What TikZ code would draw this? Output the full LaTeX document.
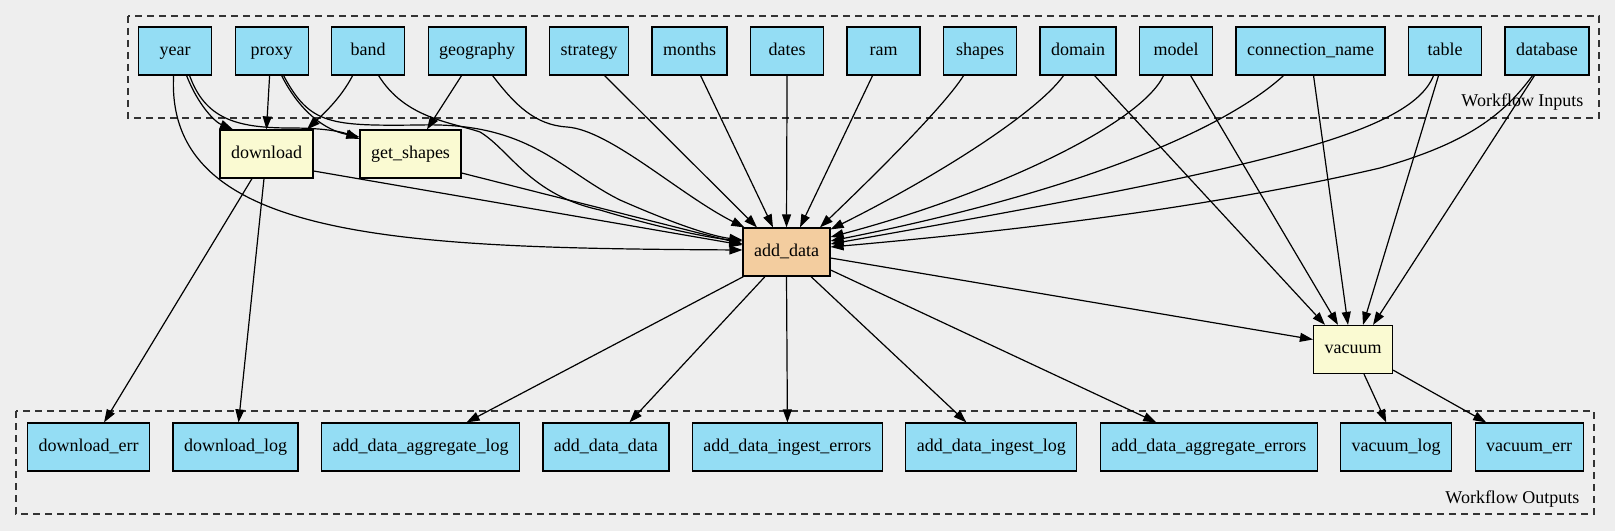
\documentclass[tikz,border=0pt]{standalone}
\usepackage{fontspec}
\setmainfont{Liberation Serif}
\usetikzlibrary{arrows.meta}

\definecolor{bgcol}{HTML}{EEEEEE}
\definecolor{iofill}{HTML}{94DDF4}
\definecolor{jobfill}{HTML}{FAFAD2}
\definecolor{mainfill}{HTML}{F3CD9F}
\newcommand\gvfont{\fontsize{18bp}{21bp}\selectfont}

\tikzset{
  io/.style={draw, fill=iofill, line width=1.2bp, minimum width=73bp,
    minimum height=48bp, inner xsep=11bp, text height=12.5bp, text depth=4bp,
    font=\gvfont},
  job/.style={io, fill=jobfill},
  mainjob/.style={io, fill=mainfill},
  edge/.style={draw, line width=1.2bp, -{Triangle[length=13bp,width=9bp]}},
  cluster/.style={draw=black!80, line width=1.2bp, dash pattern=on 7bp off 5bp},
}

\begin{document}
\begin{tikzpicture}[x=1bp, y=-1bp]
  \useasboundingbox[fill=bgcol] (0,0) rectangle (1615,531);
  \draw[cluster] (128,16) rectangle (1599,118);
  \draw[cluster] (16,411) rectangle (1594,514);
  \node[anchor=base east, font=\gvfont] (inputs) at (1587,107) {Workflow Inputs};
  \node[anchor=base east, font=\gvfont] (outputs) at (1583,503) {Workflow Outputs};

  \matrix[matrix anchor=year.west, column sep=22.3bp] at (138,51)
  {
    \node[io] (year) {year}; & \node[io] (proxy) {proxy}; & \node[io] (band) {band}; &
    \node[io] (geography) {geography}; & \node[io] (strategy) {strategy}; &
    \node[io] (months) {months}; & \node[io] (dates) {dates}; & \node[io] (ram) {ram}; &
    \node[io] (shapes) {shapes}; & \node[io] (domain) {domain}; & \node[io] (model) {model}; &
    \node[io] (connection-name) {connection\_name}; & \node[io] (table) {table}; &
    \node[io] (database) {database}; \\
  };

  \node[job] (download) at (266.5,154) {download};
  \node[job] (get-shapes) at (410.5,154) {get\_shapes};
  \node[mainjob] (add-data) at (786.5,252) {add\_data};
  \node[job] (vacuum) at (1353,349.5) {vacuum};

  \matrix[matrix anchor=download-err.west, column sep=22.3bp] at (27,447)
  {
    \node[io] (download-err) {download\_err}; & \node[io] (download-log) {download\_log}; &
    \node[io] (add-data-aggregate-log) {add\_data\_aggregate\_log}; &
    \node[io] (add-data-data) {add\_data\_data}; &
    \node[io] (add-data-ingest-errors) {add\_data\_ingest\_errors}; &
    \node[io] (add-data-ingest-log) {add\_data\_ingest\_log}; &
    \node[io] (add-data-aggregate-errors) {add\_data\_aggregate\_errors}; &
    \node[io] (vacuum-log) {vacuum\_log}; & \node[io] (vacuum-err) {vacuum\_err}; \\
  };

  % inputs into download and get_shapes
  \draw[edge] ([xshift=11.5bp]year.south) .. controls (198,105) and (215,122) .. ([xshift=-33.5bp]download.north);
  \draw[edge] ([xshift=14.5bp]year.south) .. controls (205,118) and (235,128) .. (290,128) .. controls (330,128) and (345,133) .. ([yshift=15bp]get-shapes.west);
  \draw[edge] ([xshift=-2bp]proxy.south) -- (download.north);
  \draw[edge] ([xshift=10bp]proxy.south) .. controls (300,112) and (325,130) .. ([yshift=17bp]get-shapes.west);
  \draw[edge] ([xshift=-15.5bp]band.south) .. controls (340,100) and (320,117) .. ([xshift=40.5bp]download.north);
  \draw[edge] ([xshift=-15.5bp]geography.south) -- ([xshift=16.5bp]get-shapes.north);

  % inputs into add_data
  \draw[edge] ([xshift=-1.5bp]year.south) .. controls (165,240) and (400,248) .. ([yshift=2bp]add-data.west);
  \draw[edge] ([xshift=12bp]proxy.south) .. controls (310,125) and (330,126) .. (420,125) .. controls (530,122) and (560,170) .. (620,200) .. controls (670,222) and (710,236) .. ([yshift=12bp]add-data.west);
  \draw[edge] ([xshift=10.5bp]band.south) .. controls (405,118) and (450,122) .. (480,132) .. controls (510,150) and (530,195) .. (600,210) .. controls (660,228) and (710,238) .. ([yshift=11bp]add-data.west);
  \draw[edge] ([xshift=15.5bp]geography.south) .. controls (515,105) and (535,125) .. (567,127) .. controls (610,130) and (680,195) .. ([xshift=2bp]add-data.north west);
  \draw[edge] ([yshift=-17bp]download.east) -- ([yshift=7bp]add-data.west);
  \draw[edge] ([yshift=-19bp]get-shapes.east) -- ([yshift=8bp]add-data.west);
  \draw[edge] ([xshift=15.5bp]strategy.south) -- ([xshift=-29.5bp]add-data.north);
  \draw[edge] ([xshift=11bp]months.south) -- ([xshift=-13.5bp]add-data.north);
  \draw[edge] (dates.south) -- (add-data.north);
  \draw[edge] ([xshift=-11bp]ram.south) -- ([xshift=13.5bp]add-data.north);
  \draw[edge] ([xshift=-16.5bp]shapes.south) .. controls (945,105) and (880,170) .. ([xshift=33.5bp]add-data.north);
  \draw[edge] ([xshift=-14.5bp]domain.south) .. controls (1035,115) and (930,180) .. ([yshift=-2bp]add-data.north east);
  \draw[edge] ([xshift=-12.5bp]model.south) .. controls (1140,125) and (990,195) .. ([yshift=15bp]add-data.east);
  \draw[edge] ([xshift=-27bp]connection-name.south) .. controls (1235,120) and (1110,185) .. ([yshift=11bp]add-data.east);
  \draw[edge] ([xshift=-11.5bp]table.south) .. controls (1410,135) and (1250,170) .. ([yshift=8bp]add-data.east);
  \draw[edge] ([xshift=-14.5bp]database.south) .. controls (1500,120) and (1460,145) .. (1380,168) .. controls (1200,210) and (1000,232) .. ([yshift=5bp]add-data.east);

  % inputs into vacuum
  \draw[edge] ([xshift=16.5bp]domain.south) -- ([xshift=-28bp]vacuum.north);
  \draw[edge] ([xshift=14.5bp]model.south) -- ([xshift=-15bp]vacuum.north);
  \draw[edge] ([xshift=3bp]connection-name.south) -- ([xshift=-5bp]vacuum.north);
  \draw[edge] ([xshift=-6.5bp]table.south) -- ([xshift=10bp]vacuum.north);
  \draw[edge] ([xshift=-12.5bp]database.south) -- ([xshift=20bp]vacuum.north);
  \draw[edge] ([yshift=-6bp]add-data.east) -- ([yshift=10bp]vacuum.west);

  % outputs
  \draw[edge] ([xshift=-14.5bp]download.south) -- ([xshift=15.5bp]download-err.north);
  \draw[edge] ([xshift=-2.5bp]download.south) -- ([xshift=3bp]download-log.north);
  \draw[edge] ([xshift=1bp]add-data.south west) -- ([xshift=46bp]add-data-aggregate-log.north);
  \draw[edge] ([xshift=-21.5bp]add-data.south) -- ([xshift=23.5bp]add-data-data.north);
  \draw[edge] (add-data.south) -- (add-data-ingest-errors.north);
  \draw[edge] ([xshift=24.5bp]add-data.south) -- ([xshift=-25bp]add-data-ingest-log.north);
  \draw[edge] ([yshift=-18bp]add-data.east) -- ([xshift=-52.5bp]add-data-aggregate-errors.north);
  \draw[edge] ([xshift=11bp]vacuum.south) -- ([xshift=-10bp]vacuum-log.north);
  \draw[edge] ([yshift=4bp]vacuum.south east) -- ([xshift=-43bp]vacuum-err.north);
\end{tikzpicture}
\end{document}
